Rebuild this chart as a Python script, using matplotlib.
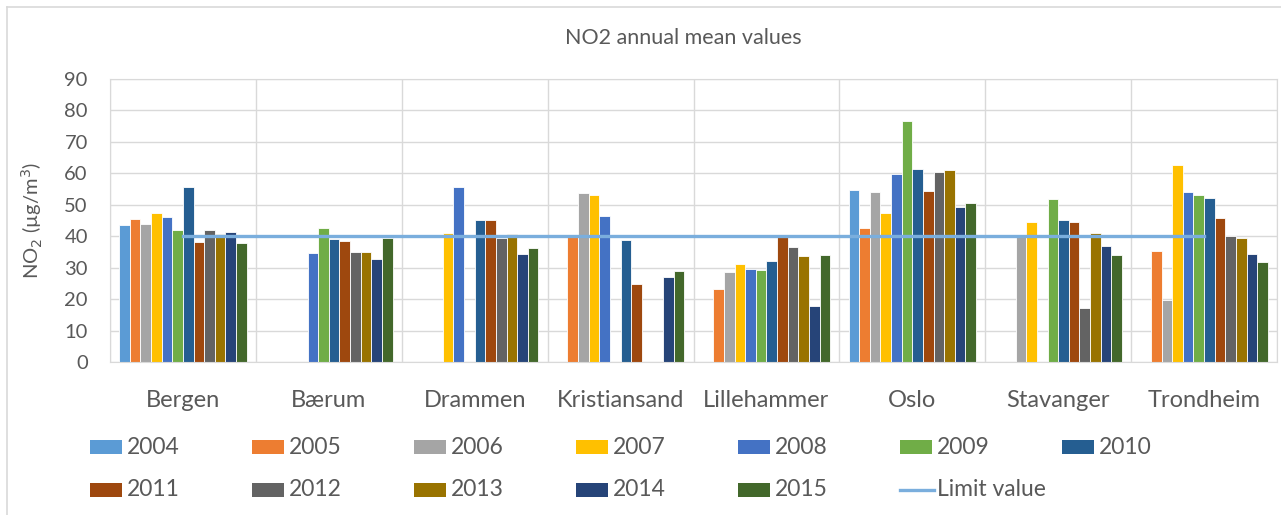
import numpy as np
import matplotlib
matplotlib.use("Agg")
from matplotlib import pyplot as plt
from matplotlib.patches import Rectangle
from matplotlib.lines import Line2D

nan = np.nan

cities = ["Bergen", "Bærum", "Drammen", "Kristiansand", "Lillehammer",
          "Oslo", "Stavanger", "Trondheim"]
years = ["2004", "2005", "2006", "2007", "2008", "2009",
         "2010", "2011", "2012", "2013", "2014", "2015"]

v2004 = [43.6, nan, nan, nan, nan, 54.6, nan, nan]
v2005 = [45.4, nan, nan, 39.7, 23.2, 42.5, nan, 35.2]
v2006 = [43.9, nan, nan, 53.6, 28.7, 54.1, 39.7, 19.6]
v2007 = [47.3, nan, 41.0, 53.0, 31.3, 47.3, 44.6, 62.7]
v2008 = [46.0, 34.8, 55.7, 46.4, 29.6, 59.8, nan, 54.0]
v2009 = [42.0, 42.5, nan, nan, 29.3, 76.6, 51.7, 53.0]
v2010 = [55.7, 39.1, 45.2, 38.9, 32.1, 61.4, 45.2, 52.0]
v2011 = [38.2, 38.4, 45.2, 24.8, 39.6, 54.3, 44.4, 45.7]
v2012 = [42.0, 35.0, 39.4, nan, 36.6, 60.3, 17.2, 40.2]
v2013 = [40.7, 35.0, 40.7, nan, 33.7, 61.2, 41.0, 39.4]
v2014 = [41.4, 32.7, 34.5, 27.1, 17.8, 49.4, 36.9, 34.3]
v2015 = [37.9, 39.4, 36.3, 29.0, 34.0, 50.7, 33.9, 31.8]
limit_value = [40] * len(cities)

series = [v2004, v2005, v2006, v2007, v2008, v2009,
          v2010, v2011, v2012, v2013, v2014, v2015]
colors = ["#5B9BD5", "#ED7D31", "#A5A5A5", "#FFC000", "#4472C4", "#70AD47",
          "#255E91", "#9E480E", "#636363", "#997300", "#264478", "#43682B"]
limit_color = "#7AAEDD"
text_color = "#595959"
grid_color = "#D9D9D9"

plt.rcParams['font.family'] = ['Lato', 'DejaVu Sans']

W, H = 1281, 515
fig = plt.figure(figsize=(W / 100, H / 100), dpi=100)
ax = fig.add_axes([110 / W, 1 - 362 / H, 1167 / W, 283 / H])

x = np.arange(len(cities))
bw = 0.0728
for i, (vals, c) in enumerate(zip(series, colors)):
    off = (i - (len(series) - 1) / 2) * bw
    ax.bar(x + off, vals, width=bw, color=c, edgecolor="white",
           linewidth=0.6, zorder=2)

ax.plot(x, limit_value, color=limit_color, linewidth=2.4, zorder=3)

ax.set_xlim(-0.5, len(cities) - 0.5)
ax.set_ylim(0, 90)
ax.set_yticks(np.arange(0, 91, 10))
ax.set_xticks(x)
ax.set_xticklabels(cities, fontsize=17, color=text_color)
ax.set_xticks(np.arange(-0.5, len(cities), 1), minor=True)
ax.tick_params(axis="x", which="both", length=0, pad=20)
ax.tick_params(axis="y", length=0, pad=16, labelsize=14.5, labelcolor=text_color)
ax.grid(axis="y", color=grid_color, linewidth=1, zorder=0)
ax.grid(axis="x", which="minor", color=grid_color, linewidth=1, zorder=0)
ax.grid(axis="x", which="major", visible=False)
for s in ax.spines.values():
    s.set_color(grid_color)
ax.set_axisbelow(True)

ax.set_ylabel("NO$_2$ (µg/m$^3$)", fontsize=14.5, color=text_color)
ax.yaxis.set_label_coords(-0.056, 0.5)

fig.text(683 / W, 1 - 38 / H, "NO2 annual mean values", fontsize=15.5,
         color=text_color, ha="center", va="center")

# legend laid out like Excel: 7 equal columns, 2 rows
labels = years + ["Limit value"]
for k, lab in enumerate(labels):
    col, row = k % 7, k // 7
    px = 90 + 162 * col
    py = 447 + 43 * row
    if k < len(years):
        fig.add_artist(Rectangle((px / W, 1 - (py + 7) / H), 32 / W, 14 / H,
                                 transform=fig.transFigure,
                                 facecolor=colors[k], edgecolor="none"))
    else:
        fig.add_artist(Line2D([px / W, (px + 34) / W], [1 - py / H, 1 - py / H],
                              transform=fig.transFigure, color=limit_color,
                              linewidth=2.4))
    fig.text((px + 37) / W, 1 - py / H, lab, fontsize=16.5, color=text_color,
             ha="left", va="center")

# chart frame
fig.add_artist(Line2D([7 / W, 7 / W], [0, 1 - 7 / H], transform=fig.transFigure,
                      color=grid_color, linewidth=1.2))
fig.add_artist(Line2D([7 / W, 1], [1 - 7 / H, 1 - 7 / H], transform=fig.transFigure,
                      color=grid_color, linewidth=1.2))

fig.savefig("out.png", dpi=100)
